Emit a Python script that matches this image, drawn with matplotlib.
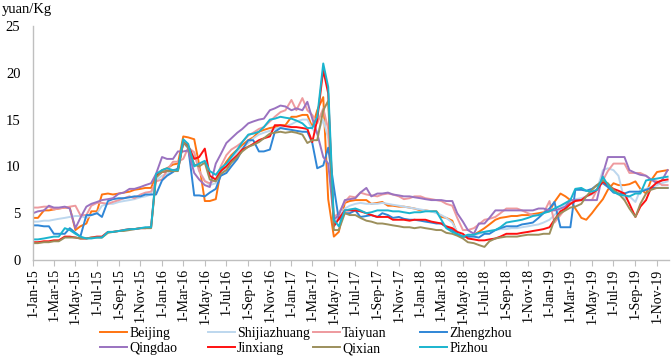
import matplotlib
matplotlib.use("Agg")
import matplotlib.pyplot as plt
import matplotlib.dates as mdates
from matplotlib.lines import Line2D
import pandas as pd

plt.rcParams['font.family'] = ['Liberation Serif', 'DejaVu Serif']

# semi-monthly observations, 1st and 15th of each month
dates = pd.date_range('2015-01-01', '2019-12-01', freq='SMS')

beijing = [4.5, 4.5, 5.3, 5.3, 5.4, 5.5, 5.6, 5.6, 3.2, 3.6, 3.9, 5.2, 5.2, 7.0, 7.1, 7.0, 7.1, 7.2, 7.3, 7.5, 7.6, 7.7, 7.7, 9.0,
           9.6, 9.8, 10.2, 10.3, 13.2, 13.1, 12.9, 10.2, 6.3, 6.3, 6.5, 9.5, 10.5, 11.2, 11.8, 12.3, 12.8, 13.1, 13.7, 13.9, 14.1, 14.2, 14.4, 14.4,
           15.3, 15.3, 15.5, 15.5, 14.2, 16.0, 17.4, 6.5, 2.5, 3.0, 6.1, 6.3, 6.4, 6.4, 6.4, 6.0, 6.1, 6.2, 5.8, 5.8, 5.7, 5.7, 5.6, 5.5,
           5.3, 5.3, 5.2, 5.2, 4.6, 4.5, 4.2, 2.8, 2.5, 2.5, 2.7, 3.0, 3.4, 3.8, 4.3, 4.5, 4.6, 4.7, 4.7, 4.8, 4.8, 4.9, 5.0, 5.1,
           5.2, 6.2, 7.1, 6.8, 6.4, 5.5, 4.5, 4.3, 5.0, 5.7, 6.5, 7.5, 8.2, 8.0, 8.0, 8.1, 8.4, 7.6, 7.1, 8.5, 9.4, 9.5, 9.6]
shijiazhuang = [4.1, 4.1, 4.2, 4.2, 4.3, 4.4, 4.5, 4.6, 4.7, 4.7, 4.5, 4.8, 5.0, 5.8, 6.0, 6.0, 6.2, 6.3, 6.4, 6.5, 6.7, 6.8, 7.0, 8.5,
                9.0, 9.2, 9.6, 9.8, 12.5, 12.0, 11.5, 9.5, 8.5, 8.0, 8.2, 9.0, 10.0, 10.8, 11.5, 12.0, 12.5, 13.0, 13.4, 13.6, 13.8, 14.0, 14.2, 14.3,
                14.5, 14.8, 15.0, 15.0, 14.0, 13.5, 15.0, 13.0, 4.0, 4.5, 5.5, 5.8, 6.0, 6.1, 6.0, 6.0, 6.0, 6.1, 6.0, 5.9, 5.8, 5.7, 5.6, 5.5,
                5.4, 5.3, 5.2, 5.0, 4.8, 4.5, 4.0, 3.0, 2.6, 2.5, 2.6, 2.8, 3.0, 3.1, 3.2, 3.3, 3.3, 3.4, 3.4, 3.5, 3.6, 3.7, 3.8, 4.0,
                4.3, 4.8, 5.5, 6.0, 6.2, 6.5, 6.6, 6.8, 7.0, 7.5, 9.6, 9.8, 9.6, 9.0, 6.4, 6.8, 6.2, 7.5, 7.6, 7.8, 8.0, 8.2, 8.4]
taiyuan = [5.6, 5.6, 5.7, 5.7, 5.4, 5.5, 5.6, 5.7, 5.8, 4.8, 4.8, 5.8, 6.1, 6.1, 6.0, 6.2, 6.4, 6.6, 6.8, 6.6, 7.0, 7.2, 7.3, 8.4,
           8.6, 9.6, 10.5, 10.5, 10.8, 12.0, 11.5, 9.5, 8.4, 8.2, 8.6, 10.0, 11.2, 11.8, 12.2, 12.6, 13.3, 13.6, 14.0, 14.2, 14.8, 15.3, 15.8, 16.0,
           17.1, 16.0, 17.3, 16.0, 15.5, 14.6, 16.2, 14.0, 4.6, 5.0, 6.2, 6.8, 6.7, 7.2, 7.0, 6.9, 6.8, 7.0, 7.1, 7.0, 6.8, 6.5, 6.6, 6.8,
           6.8, 6.6, 6.5, 6.4, 6.3, 6.0, 5.8, 4.5, 3.2, 3.2, 3.4, 3.8, 4.3, 4.4, 4.6, 5.0, 5.5, 5.5, 5.5, 5.3, 5.0, 4.8, 4.8, 5.0,
           6.3, 4.0, 4.8, 5.5, 6.0, 6.4, 6.4, 6.4, 6.4, 7.5, 8.5, 9.5, 10.3, 10.3, 10.3, 9.3, 9.3, 9.3, 9.0, 8.6, 8.4, 8.0, 8.0]
zhengzhou = [3.7, 3.7, 3.6, 3.6, 2.8, 2.8, 2.8, 3.4, 2.9, 2.5, 4.8, 4.8, 5.0, 4.6, 6.3, 6.5, 6.6, 6.6, 6.7, 6.8, 6.8, 7.0, 7.0, 7.0,
             8.5, 9.0, 9.4, 9.8, 12.6, 12.0, 6.9, 6.9, 6.8, 7.2, 7.6, 9.0, 9.3, 10.0, 10.8, 11.8, 12.8, 12.8, 11.6, 11.6, 11.8, 13.7, 14.1, 14.0,
             13.9, 13.8, 13.7, 13.7, 12.5, 9.8, 10.1, 12.0, 7.8, 4.3, 5.0, 5.0, 5.3, 4.6, 4.7, 4.8, 4.6, 5.0, 4.8, 4.5, 4.6, 4.4, 4.3, 4.3,
             4.2, 4.1, 4.0, 3.9, 3.9, 3.5, 3.2, 2.7, 2.5, 2.5, 2.5, 2.4, 2.8, 2.8, 3.2, 3.4, 3.6, 3.6, 3.6, 3.8, 3.9, 4.0, 4.5, 5.0,
             5.5, 6.2, 3.5, 3.5, 3.5, 7.5, 7.5, 7.4, 7.6, 8.0, 8.2, 7.8, 7.2, 7.1, 7.1, 7.3, 7.3, 7.3, 7.5, 7.7, 7.7, 7.7, 7.7]
qingdao = [5.0, 5.2, 5.3, 5.8, 5.6, 5.6, 5.7, 5.5, 3.4, 4.5, 5.7, 6.0, 6.2, 6.4, 6.5, 6.6, 7.1, 7.2, 7.6, 7.6, 7.8, 8.0, 8.2, 9.2,
           11.0, 10.8, 10.8, 11.6, 11.6, 11.7, 9.3, 8.6, 8.0, 7.8, 10.3, 11.3, 12.5, 13.0, 13.6, 14.0, 14.6, 14.8, 15.0, 15.1, 16.0, 16.2, 16.5, 16.4,
           16.0, 16.2, 16.0, 16.9, 15.1, 13.5, 11.0, 10.3, 4.3, 4.8, 6.4, 6.5, 6.6, 7.2, 7.7, 6.8, 7.1, 7.1, 7.2, 7.0, 6.9, 6.8, 6.8, 6.7,
           6.6, 6.5, 6.4, 6.4, 6.4, 6.3, 6.3, 5.0, 4.1, 3.2, 2.8, 3.9, 3.9, 4.5, 5.3, 5.3, 5.3, 5.3, 5.3, 5.3, 5.3, 5.3, 5.5, 5.5,
           5.3, 5.3, 5.5, 5.7, 6.4, 6.4, 6.4, 6.4, 6.4, 6.4, 9.2, 11.0, 11.0, 11.0, 11.0, 9.6, 9.3, 9.1, 9.0, 8.6, 8.2, 8.5, 9.6]
jinxiang = [1.9, 1.9, 2.0, 2.0, 2.1, 2.1, 2.5, 2.5, 2.4, 2.3, 2.3, 2.4, 2.5, 2.5, 3.0, 3.0, 3.1, 3.2, 3.3, 3.3, 3.4, 3.4, 3.5, 9.0,
            9.4, 9.5, 9.6, 9.6, 12.6, 12.2, 10.8, 11.0, 11.9, 9.0, 8.6, 9.5, 10.0, 10.6, 11.2, 11.8, 12.1, 12.4, 12.8, 13.0, 13.2, 14.4, 14.4, 14.3,
            14.2, 14.2, 14.1, 14.0, 12.6, 15.0, 20.3, 17.8, 3.6, 4.4, 5.3, 5.3, 5.3, 5.2, 5.0, 4.8, 4.6, 4.6, 4.6, 4.3, 4.3, 4.3, 4.2, 4.3,
            4.3, 4.3, 4.1, 4.0, 3.9, 3.6, 3.4, 3.0, 2.8, 2.3, 2.2, 2.1, 2.1, 2.2, 2.3, 2.5, 2.8, 2.8, 2.8, 2.9, 3.0, 3.1, 3.2, 3.3,
            3.5, 4.3, 5.2, 5.5, 6.0, 6.3, 6.4, 6.8, 7.1, 7.5, 8.4, 8.0, 7.6, 7.4, 7.1, 6.0, 4.6, 5.7, 6.4, 7.7, 8.3, 8.5, 8.6]
qixian = [1.8, 1.8, 1.9, 1.9, 2.0, 2.0, 2.4, 2.4, 2.4, 2.3, 2.3, 2.4, 2.4, 2.4, 2.9, 3.0, 3.1, 3.1, 3.2, 3.3, 3.4, 3.4, 3.4, 8.8,
          9.4, 9.5, 9.5, 9.5, 12.6, 12.0, 10.2, 10.0, 10.4, 8.6, 8.4, 9.2, 9.6, 10.4, 11.0, 11.6, 12.1, 12.3, 12.6, 13.0, 13.5, 13.6, 13.7, 13.6,
          13.7, 13.6, 13.4, 12.5, 12.8, 12.8, 16.0, 17.0, 3.2, 3.2, 5.0, 4.8, 4.8, 4.5, 4.2, 4.1, 3.9, 3.9, 3.8, 3.7, 3.6, 3.5, 3.5, 3.4,
          3.5, 3.4, 3.3, 3.2, 3.2, 2.9, 2.8, 2.6, 2.3, 1.9, 1.8, 1.6, 1.4, 2.0, 2.3, 2.4, 2.5, 2.5, 2.5, 2.6, 2.7, 2.7, 2.7, 2.8,
          2.8, 4.3, 5.0, 5.3, 5.6, 5.7, 6.0, 6.8, 7.5, 8.0, 8.5, 8.2, 7.5, 7.1, 6.4, 5.5, 4.6, 6.0, 7.1, 7.5, 7.7, 7.7, 7.7]
pizhou = [2.2, 2.2, 2.3, 2.4, 2.5, 2.5, 3.4, 3.2, 2.8, 2.5, 2.3, 2.3, 2.4, 2.4, 3.0, 3.0, 3.1, 3.2, 3.3, 3.3, 3.4, 3.5, 3.5, 9.2,
          9.6, 9.8, 9.6, 9.6, 12.9, 12.4, 10.0, 10.3, 10.6, 9.5, 9.1, 9.8, 10.3, 11.0, 11.8, 12.6, 13.4, 13.5, 13.7, 14.2, 15.0, 15.1, 15.3, 15.2,
          15.1, 14.9, 14.6, 14.1, 14.1, 15.3, 21.0, 18.5, 4.3, 3.6, 5.3, 5.4, 5.5, 5.3, 5.0, 5.1, 5.3, 5.3, 5.3, 5.2, 5.2, 5.1, 5.0, 5.1,
          5.1, 5.2, 5.2, 5.2, 4.3, 3.4, 3.0, 2.8, 2.5, 2.7, 2.7, 2.9, 3.0, 3.1, 3.2, 3.5, 4.0, 4.1, 4.2, 4.3, 4.5, 4.7, 4.8, 5.0,
          5.2, 5.5, 5.8, 6.1, 6.4, 7.6, 7.7, 7.4, 7.3, 7.5, 8.9, 8.0, 7.3, 7.0, 6.9, 6.8, 7.1, 7.1, 8.5, 8.6, 8.7, 8.8, 8.9]

names = ['Beijing', 'Shijiazhuang', 'Taiyuan', 'Zhengzhou', 'Qingdao', 'Jinxiang', 'Qixian', 'Pizhou']
series = [beijing, shijiazhuang, taiyuan, zhengzhou, qingdao, jinxiang, qixian, pizhou]
colors = ['#FF7410', '#BDD7EE', '#EE9A9E', '#2F86D6', '#9A72C0', '#FF1010', '#9C8F5C', '#1AB4CE']

fig = plt.figure(figsize=(6.71, 3.62), dpi=100)
ax = fig.add_axes([33 / 671, 1 - 260 / 362, 636 / 671, 234 / 362])

for name, vals, c in zip(names, series, colors):
    ax.plot(dates, vals, color=c, lw=1.4, label=name)

ax.set_ylim(0, 25)
ax.set_yticks([0, 5, 10, 15, 20, 25])
ax.set_xlim(pd.Timestamp('2015-01-01'), pd.Timestamp('2019-12-05'))
ax.xaxis.set_major_locator(mdates.MonthLocator(bymonth=[1, 3, 5, 7, 9, 11]))


def date_label(v, pos):
    d = mdates.num2date(v)
    return '%d-%s' % (d.day, d.strftime('%b-%y'))


ax.xaxis.set_major_formatter(plt.FuncFormatter(date_label))
plt.setp(ax.get_xticklabels(), rotation=90, ha='center', va='top')

for s in ['top', 'right']:
    ax.spines[s].set_visible(False)
for s in ['left', 'bottom']:
    ax.spines[s].set_color('#BFBFBF')
    ax.spines[s].set_linewidth(1.0)
ax.tick_params(axis='x', length=4, color='#BFBFBF', labelsize=10, pad=2)
ax.tick_params(axis='y', length=0, labelsize=10.5, pad=9)

fig.text(0.003, 1 - 10 / 362, 'yuan/Kg', fontsize=10.5, va='center', ha='left')

# legend as 4 fixed-width columns, like the source chart
col_x = [100, 208, 313, 420]
for i, x in enumerate(col_x):
    hs = [Line2D([], [], color=colors[i], lw=1.4), Line2D([], [], color=colors[i + 4], lw=1.4)]
    fig.legend(hs, [names[i], names[i + 4]], loc='upper left',
               bbox_to_anchor=(x / 671, 1 - 327 / 362), frameon=False,
               fontsize=10, handlelength=1.95, handletextpad=0.15,
               borderpad=0, borderaxespad=0, labelspacing=0.15)

fig.savefig('out.png', dpi=100)
